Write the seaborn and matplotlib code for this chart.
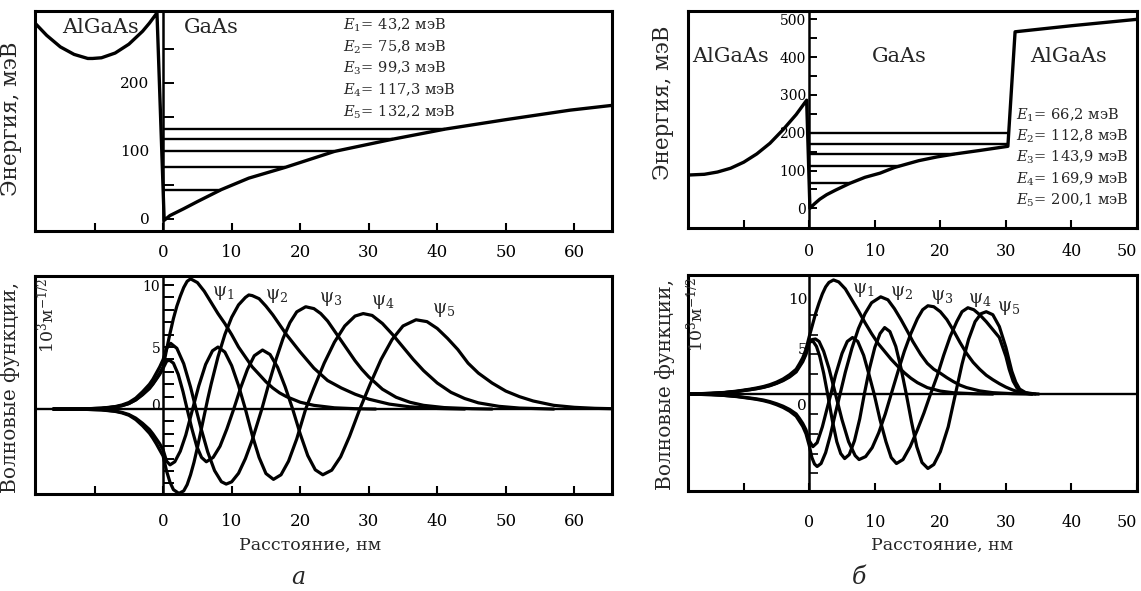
import matplotlib
matplotlib.use("Agg")
import matplotlib.pyplot as plt
import matplotlib.transforms as mtransforms
import seaborn as sns

# ---------------- data: panel a ----------------
pot_a_x = [-18.7, -17, -15, -13, -11, -10.3, -9, -7, -5, -3, -2, -0.9, 0.15, 1, 2, 3, 5,
           8.5, 12.5, 17.8, 25, 33.5, 41.2, 50, 59.4, 65.5]
pot_a_v = [288, 270, 253, 242, 236, 236, 237, 244, 257, 276, 288, 303, -2, 5, 10, 15, 25.5,
           43.2, 60, 75.8, 99.3, 117.3, 132.2, 146, 160, 167]
E_a = [43.2, 75.8, 99.3, 117.3, 132.2]
E_a_end = [8.5, 17.8, 25.0, 33.5, 41.2]

tail_a_x = [-16, -12, -9, -7, -6, -5, -4, -3, -2, -1.5, -1, -0.5]

psi1_a_x = tail_a_x + [0, 0.5, 1, 1.5, 2, 2.5, 3, 3.5, 4, 5, 6, 7, 8, 9, 10, 11, 12, 13, 14, 15,
                       16, 17, 18, 20, 22, 25, 28, 31]
psi1_a_y = [0, 0.01, 0.06, 0.17, 0.28, 0.45, 0.75, 1.2, 1.7, 2.05, 2.45, 2.9,
            3.4, 4.8, 6.1, 7.3, 8.3, 9.1, 9.8, 10.3, 10.5, 10.2, 9.5, 8.6, 7.7, 6.9, 6.0, 5.0,
            4.2, 3.4, 2.8, 2.2, 1.7, 1.3, 1.0, 0.55, 0.3, 0.1, 0.03, 0]

psi2_a_x = tail_a_x + [0, 0.5, 1, 1.5, 2.3, 3, 3.5, 4, 4.5, 5, 5.5, 6, 6.5, 7, 8, 9, 10, 11, 12,
                       12.5, 13, 14, 15, 16, 17, 18, 19, 20, 22, 24, 26, 28, 30, 33, 36, 40, 44]
psi2_a_y = [0, -0.01, -0.07, -0.19, -0.31, -0.5, -0.85, -1.35, -1.95, -2.35, -2.8, -3.3,
            -3.8, -5.0, -5.9, -6.5, -6.8, -6.6, -6.1, -5.3, -4.3, -3.1, -1.8, -0.5, 0.8, 2.0,
            4.2, 6.0, 7.4, 8.4, 9.0, 9.2, 9.15, 8.9, 8.3, 7.6, 6.8, 6.0, 5.3, 4.6, 3.3, 2.3,
            1.7, 1.2, 0.8, 0.4, 0.18, 0.05, 0]

psi3_a_x = tail_a_x + [0, 0.5, 1.1, 2, 3, 4, 4.8, 5.5, 6.5, 7.5, 8.5, 9.2, 10, 11, 12, 13, 14.4,
                       15.5, 16.5, 17.5, 18.5, 19.5, 20.8, 22, 23, 24, 25, 26, 27, 28, 29, 30,
                       32, 34, 36, 38, 41, 45, 48]
psi3_a_y = [0, 0.01, 0.07, 0.2, 0.33, 0.53, 0.88, 1.4, 2.0, 2.4, 2.9, 3.4,
            4.0, 4.9, 5.3, 4.9, 3.66, 1.77, 0, -1.5, -3.45, -4.96, -5.86, -6.05, -5.87, -5.18,
            -4.0, -2.5, 0, 2.2, 4.05, 5.7, 6.97, 7.84, 8.25, 8.1, 7.7, 7.1, 6.3, 5.5, 4.7, 3.9,
            3.2, 2.6, 1.6, 0.95, 0.55, 0.3, 0.12, 0.03, 0]

psi4_a_x = tail_a_x + [0, 0.5, 1.0, 1.7, 2.5, 3.3, 4.3, 5.2, 6.2, 7.2, 8.0, 9, 10, 11, 12, 13, 14,
                       15, 16.1, 17.2, 18.3, 19.5, 20.8, 22, 23.5, 25, 26.5, 28, 29.2, 30.5, 32,
                       33.5, 35, 36.5, 38, 40, 42, 44, 46, 49, 52, 57]
psi4_a_y = [0, -0.01, -0.06, -0.16, -0.27, -0.44, -0.73, -1.15, -1.65, -2.0, -2.4, -2.8,
            -3.3, -4.2, -4.5, -4.25, -3.4, -2.1, 0, 1.87, 3.6, 4.7, 5.0, 4.6, 3.5, 1.9, 0, -2.1,
            -3.9, -5.2, -5.67, -5.3, -4.2, -2.4, 0, 1.7, 3.7, 5.4, 6.7, 7.5, 7.7, 7.55, 6.9,
            6.0, 5.0, 4.0, 3.1, 2.1, 1.35, 0.85, 0.5, 0.22, 0.08, 0]

psi5_a_x = tail_a_x + [0, 0.5, 0.9, 1.5, 2.2, 2.9, 3.5, 4.2, 4.9, 5.6, 6.3, 7.3, 8.3, 9.3, 10.3,
                       11.3, 12.3, 13.3, 14.5, 15.6, 16.7, 17.8, 18.9, 20, 21.1, 22.2, 23.3,
                       24.6, 25.9, 27.2, 28.7, 30.2, 31.8, 33.4, 35, 36.9, 38.5, 40, 41.5, 43,
                       44.5, 46, 48, 50, 52, 54, 57, 60, 63, 65.5]
psi5_a_y = [0, 0.01, 0.06, 0.16, 0.27, 0.44, 0.73, 1.15, 1.65, 2.0, 2.4, 2.8,
            3.3, 3.85, 3.95, 3.7, 2.8, 1.4, 0, -1.6, -3.0, -3.9, -4.25, -3.9, -3.0, -1.6, 0,
            1.7, 3.2, 4.3, 4.76, 4.4, 3.37, 1.8, 0, -2.0, -3.75, -4.9, -5.3, -4.93, -3.85,
            -2.2, 0, 2.0, 4.0, 5.6, 6.7, 7.2, 7.05, 6.5, 5.7, 4.8, 3.7, 2.9, 2.1, 1.45, 1.0,
            0.65, 0.3, 0.14, 0.06, 0.03]

# ---------------- data: panel б ----------------
pot_b_x = [-18.5, -16, -14, -12, -10, -8, -6, -4, -2, -0.4, 0.1, 0.8, 1.6, 2.65, 4, 6.2, 8.5,
           10.8, 13, 16.7, 19.5, 22.3, 26, 30.3, 31.4, 40, 50]
pot_b_v = [88, 90, 96, 106, 122, 144, 172, 208, 248, 286, 0, 12, 24, 36, 48, 66.2, 82,
           93, 108, 126, 136, 144, 153, 164, 467, 483, 500]
E_b = [66.2, 112.8, 143.9, 169.9, 200.1]
E_b_end = [6.2, 13.8, 22.3, 30.3, 30.35]

tail_b_x = [-18.5, -15, -13, -11, -9, -8, -7, -6, -5, -4, -3, -2, -1.5, -1, -0.5]

psi1_b_x = tail_b_x + [0, 0.5, 1, 1.5, 2, 2.5, 3, 3.7, 4.5, 5.5, 6.5, 7.5, 8.5, 9.5, 10.5, 11.5,
                       12.5, 13.5, 14.5, 15.5, 16.5, 18, 20, 22, 25, 28]
psi1_b_y = [0, 0.08, 0.16, 0.3, 0.5, 0.62, 0.76, 0.95, 1.2, 1.52, 1.95, 2.5, 3.05, 3.65, 4.5,
            5.8, 7.0, 8.2, 9.2, 10.1, 10.8, 11.25, 11.5, 11.3, 10.6, 9.5, 8.4, 7.2, 6.1, 5.1,
            4.3, 3.5, 2.8, 2.15, 1.6, 1.15, 0.65, 0.3, 0.13, 0.04, 0]

psi2_b_x = tail_b_x + [0, 0.4, 0.8, 1.2, 1.8, 2.5, 3.2, 4, 4.7, 5.5, 6.5, 7.5, 8.5, 9.5, 10.9, 12,
                       13, 14, 15, 15.8, 17, 18, 19, 20, 21, 22, 23, 24, 26, 28, 31, 34]
psi2_b_y = [0, -0.06, -0.14, -0.26, -0.44, -0.54, -0.67, -0.84, -1.07, -1.35, -1.72, -2.23,
            -2.74, -3.25, -4.0,
            -5.2, -6.4, -7.05, -7.3, -7.0, -5.9, -4.2, -1.9, 0, 2.2, 4.6, 6.6, 8.1, 9.2, 9.8,
            9.5, 8.6, 7.5, 6.3, 5.3, 4.0, 3.1, 2.5, 2.1, 1.65, 1.25, 0.9, 0.65, 0.32, 0.14,
            0.04, 0]

psi3_b_x = tail_b_x + [0, 0.5, 0.95, 1.5, 2.2, 3, 4, 5, 6, 7, 7.6, 8.6, 9.6, 10.6, 11.6, 12.5,
                       13.5, 14.5, 15.5, 16.5, 17.3, 18.1, 19, 20, 21, 22, 23, 24, 25, 26, 27,
                       28, 29, 30, 31, 32, 33, 34]
psi3_b_y = [0, 0.07, 0.14, 0.27, 0.45, 0.56, 0.69, 0.87, 1.1, 1.4, 1.78, 2.3, 2.85, 3.4, 4.15,
            5.4, 5.5, 5.55, 5.3, 4.3, 2.6, 0, -2.6, -4.8, -6.2, -6.6, -6.3, -5.4, -3.9, -2.0,
            0, 2.2, 4.3, 6.1, 7.6, 8.5, 8.9, 8.8, 8.3, 7.5, 6.4, 5.2, 4.1, 3.2, 2.5, 1.9,
            1.45, 1.05, 0.7, 0.42, 0.2, 0.07, 0]

psi4_b_x = tail_b_x + [0, 0.55, 1.2, 2, 2.7, 3.3, 4, 5, 5.8, 6.6, 7.4, 8.3, 9.1, 9.9, 10.8, 11.7,
                       12.5, 13.3, 14.3, 15.4, 16.5, 17.5, 18.5, 19.5, 20.5, 21.5, 22.5, 23.3,
                       24.2, 25.1, 26, 27, 28, 29, 30, 30.5, 31.1, 31.7, 32.5, 33.5, 35]
psi4_b_y = [0, -0.06, -0.13, -0.24, -0.4, -0.49, -0.6, -0.76, -0.97, -1.22, -1.55, -2.0,
            -2.45, -2.95, -3.6,
            -4.7, -5.3, -4.9, -3.3, -1.5, 0, 1.9, 4.1, 5.3, 5.7, 5.3, 3.9, 2.0, 0, -2.6, -4.8,
            -6.4, -7.0, -6.6, -5.3, -3.6, -1.9, 0, 1.8, 3.9, 5.8, 7.3, 8.3, 8.7, 8.5, 8.0,
            7.3, 6.5, 5.7, 3.8, 2.5, 1.3, 0.6, 0.2, 0.05, 0]

psi5_b_x = tail_b_x + [0, 0.3, 0.6, 1.1, 1.6, 2.2, 2.8, 3.5, 4.2, 4.8, 5.4, 6.1, 6.9, 7.7, 8.4,
                       9.2, 10, 10.8, 11.5, 12.3, 13.2, 14, 14.8, 15.6, 16.4, 17.2, 18.1, 19,
                       20, 21.2, 22.3, 23.3, 24.3, 25.3, 26.2, 27, 28, 29, 30, 30.9, 31.5, 32.1,
                       33, 34.5]
psi5_b_y = [0, 0.06, 0.14, 0.26, 0.44, 0.54, 0.67, 0.84, 1.07, 1.35, 1.72, 2.23, 2.74, 3.25,
            4.0,
            5.2, 5.3, 5.3, 4.8, 3.8, 2.1, 0, -2.6, -4.8, -6.0, -6.5, -6.1, -4.7, -2.5, 0, 2.6,
            4.7, 6.1, 6.7, 6.3, 4.8, 2.6, 0, -2.8, -5.3, -6.9, -7.5, -7.1, -5.8, -3.3, 0, 3.0,
            5.5, 7.3, 8.1, 8.3, 8.0, 6.8, 4.7, 2.3, 1.2, 0.5, 0.15, 0]

# ---------------- text ----------------
x_ticks_a = [-10, 0, 10, 20, 30, 40, 50, 60]
x_labels_a = ["", "0", "10", "20", "30", "40", "50", "60"]
x_ticks_b = [-10, 0, 10, 20, 30, 40, 50]
x_labels_b = ["", "0", "10", "20", "30", "40", "50"]
e_ticks_a = [0, 50, 100, 150, 200, 250]
e_labels_a = ["0", "", "100", "", "200", ""]
e_ticks_b = [0, 50, 100, 150, 200, 250, 300, 350, 400, 450, 500]
e_labels_b = ["0", "", "100", "", "200", "", "300", "", "400", "", "500"]
w_ticks_a = list(range(-6, 11))
w_ticks_b = list(range(-8, 13, 2))
w_labels_vals = [0, 5, 10]

xlabel = "Расстояние, нм"
ylabel_top = "Энергия, мэВ"
ylabel_bot = "Волновые функции,"
unit_bot = "$10^3$м$^{-1/2}$"

# ---------------- figure ----------------
sns.set_theme(style="white")
plt.rcParams["font.family"] = ["DejaVu Serif"]
plt.rcParams["mathtext.fontset"] = "dejavuserif"

W, H = 1141, 591
fig = plt.figure(figsize=(W / 100, H / 100), dpi=100)
fig.patch.set_facecolor("white")


def box(px_l, px_t, px_r, px_b):
    return [px_l / W, 1 - px_b / H, (px_r - px_l) / W, (px_b - px_t) / H]


ax_at = fig.add_axes(box(35, 11, 612, 230.7))
ax_ab = fig.add_axes(box(35, 276, 612, 494))
ax_bt = fig.add_axes(box(688, 11, 1137, 228))
ax_bb = fig.add_axes(box(688, 275, 1137, 491))

LW = 2.3


def curve(ax, x, y, lw=LW):
    sns.lineplot(x=x, y=y, ax=ax, color="black", lw=lw, sort=False,
                 estimator=None, legend=False)


def style(ax, xlim, ylim, xticks, xlabels, yticks, ylabels, ylen, ypad, xpad, ylabsize,
          xlabsize=12):
    ax.set_xlim(*xlim)
    ax.set_ylim(*ylim)
    ax.set_facecolor("white")
    for s in ["top", "right", "bottom"]:
        ax.spines[s].set_visible(True)
        ax.spines[s].set_color("black")
        ax.spines[s].set_linewidth(2.2)
    ax.spines["left"].set_position(("data", 0))
    ax.spines["left"].set_linewidth(1.8)
    ax.spines["left"].set_color("black")
    ax.plot([0, 0], [0, 1], transform=ax.transAxes, color="black", lw=2.2,
            clip_on=False, solid_capstyle="projecting")
    ax.set_xticks(xticks)
    ax.set_xticklabels(xlabels)
    ax.set_yticks(yticks)
    ax.set_yticklabels(ylabels)
    ax.tick_params(axis="x", direction="in", length=6, width=1.5, pad=xpad,
                   labelsize=xlabsize, colors="black", bottom=True, top=False)
    ax.tick_params(axis="y", direction="in", length=ylen, width=1.4, pad=ypad,
                   labelsize=ylabsize, colors="black", left=True, right=False)
    ax.set_xlabel("")
    ax.set_ylabel("")
    ax.grid(False)


def shift(lbl, dy_px):
    lbl.set_transform(lbl.get_transform() +
                      mtransforms.ScaledTranslation(0, dy_px / 100, fig.dpi_scale_trans))


# ---- panel a, top ----
curve(ax_at, pot_a_x, pot_a_v, lw=2.4)
for e, xe in zip(E_a, E_a_end):
    ax_at.hlines(e, 0, xe, color="black", lw=1.7)
style(ax_at, (-18.7, 65.5), (-17.3, 305.8), x_ticks_a, x_labels_a, e_ticks_a, e_labels_a,
      8, 10, 9.5, 11)
ax_at.text(-9.2, 281, "AlGaAs", fontsize=15, ha="center", va="center")
ax_at.text(7.1, 281, "GaAs", fontsize=15, ha="center", va="center")
for i, e in enumerate(E_a):
    ax_at.text(26.3, 285 - 32 * i, f"$E_{i + 1}$= " + f"{e:.1f}".replace(".", ",") + " мэВ",
               fontsize=10.5, ha="left", va="center")
ax_at.set_ylabel(ylabel_top, fontsize=15.5)
ax_at.yaxis.set_label_coords(-0.0225, 0.508)

# ---- panel a, bottom ----
ax_ab.axhline(0, color="black", lw=1.7)
for xs, ys in [(psi1_a_x, psi1_a_y), (psi2_a_x, psi2_a_y), (psi3_a_x, psi3_a_y),
               (psi4_a_x, psi4_a_y), (psi5_a_x, psi5_a_y)]:
    curve(ax_ab, xs, ys)
style(ax_ab, (-18.7, 65.5), (-6.85, 10.73), x_ticks_a, x_labels_a, w_ticks_a,
      [str(v) if v in w_labels_vals else "" for v in w_ticks_a], 8, 2, 13.5, 10)
for lab, xl, yl in zip(["ψ$_1$", "ψ$_2$", "ψ$_3$", "ψ$_4$", "ψ$_5$"],
                       [7.2, 14.9, 22.8, 30.3, 39.2], [9.33, 9.1, 8.85, 8.6, 8.0]):
    ax_ab.text(xl, yl, lab, fontsize=13, ha="left", va="center")
ax_ab.set_ylabel(ylabel_bot, fontsize=14.5)
ax_ab.yaxis.set_label_coords(-0.026, 0.49)
ax_ab.text(0.021, 0.99, unit_bot, transform=ax_ab.transAxes, rotation=90, fontsize=12.5,
           ha="center", va="top")
ax_ab.text(0.477, -0.234, xlabel, transform=ax_ab.transAxes, fontsize=12.5,
           ha="center", va="center")
for lbl, v in zip(ax_ab.get_yticklabels(), w_ticks_a):
    if v == 0:
        shift(lbl, 5)

# ---- panel b, top ----
curve(ax_bt, pot_b_x, pot_b_v, lw=2.4)
for e, xe in zip(E_b, E_b_end):
    ax_bt.hlines(e, 0, xe, color="black", lw=1.7)
style(ax_bt, (-18.5, 49.95), (-52.1, 522), x_ticks_b, x_labels_b, e_ticks_b, e_labels_b,
      6, 2.5, 11, 10, xlabsize=11.5)
ax_bt.get_xticklabels()[-1].set_horizontalalignment("right")
ax_bt.text(-12.0, 401, "AlGaAs", fontsize=15, ha="center", va="center")
ax_bt.text(13.8, 401, "GaAs", fontsize=15, ha="center", va="center")
ax_bt.text(39.6, 401, "AlGaAs", fontsize=15, ha="center", va="center")
for i, e in enumerate(E_b):
    ax_bt.text(31.6, 246.6 - 56.2 * i, f"$E_{i + 1}$= " + f"{e:.1f}".replace(".", ",") + " мэВ",
               fontsize=10.5, ha="left", va="center")
ax_bt.set_ylabel(ylabel_top, fontsize=15.5)
ax_bt.yaxis.set_label_coords(-0.032, 0.576)

# ---- panel b, bottom ----
ax_bb.axhline(0, color="black", lw=1.7)
for xs, ys in [(psi1_b_x, psi1_b_y), (psi2_b_x, psi2_b_y), (psi3_b_x, psi3_b_y),
               (psi4_b_x, psi4_b_y), (psi5_b_x, psi5_b_y)]:
    curve(ax_bb, xs, ys)
style(ax_bb, (-18.5, 49.95), (-9.77, 11.83), x_ticks_b, x_labels_b, w_labels_vals,
      [str(v) for v in w_labels_vals], 0, 1.5, 16.5, 11, xlabsize=11.5)
ax_bb.get_xticklabels()[-1].set_horizontalalignment("right")
ax_bb.set_yticks(w_ticks_b, minor=True)
ax_bb.tick_params(axis="y", which="minor", direction="in", length=6.5, width=1.4,
                  left=True, right=False, labelleft=False)
for lbl, v in zip(ax_bb.get_yticklabels(), w_labels_vals):
    shift(lbl, -10 if v == 0 else -4)
for lab, xl, yl in zip(["ψ$_1$", "ψ$_2$", "ψ$_3$", "ψ$_4$", "ψ$_5$"],
                       [6.5, 12.3, 18.4, 24.2, 28.6], [10.5, 10.2, 9.8, 9.5, 8.7]):
    ax_bb.text(xl, yl, lab, fontsize=13, ha="left", va="center")
ax_bb.set_ylabel(ylabel_bot, fontsize=14.5)
ax_bb.yaxis.set_label_coords(-0.028, 0.495)
ax_bb.text(0.02, 0.99, unit_bot, transform=ax_bb.transAxes, rotation=90, fontsize=12.5,
           ha="center", va="top")
ax_bb.text(0.566, -0.25, xlabel, transform=ax_bb.transAxes, fontsize=12.5,
           ha="center", va="center")

fig.text(298 / W, 1 - 577 / H, "a", fontsize=17, style="italic", ha="center", va="center")
fig.text(859 / W, 1 - 577 / H, "б", fontsize=17, style="italic", ha="center", va="center")

fig.savefig("out.png", dpi=100, facecolor="white")
